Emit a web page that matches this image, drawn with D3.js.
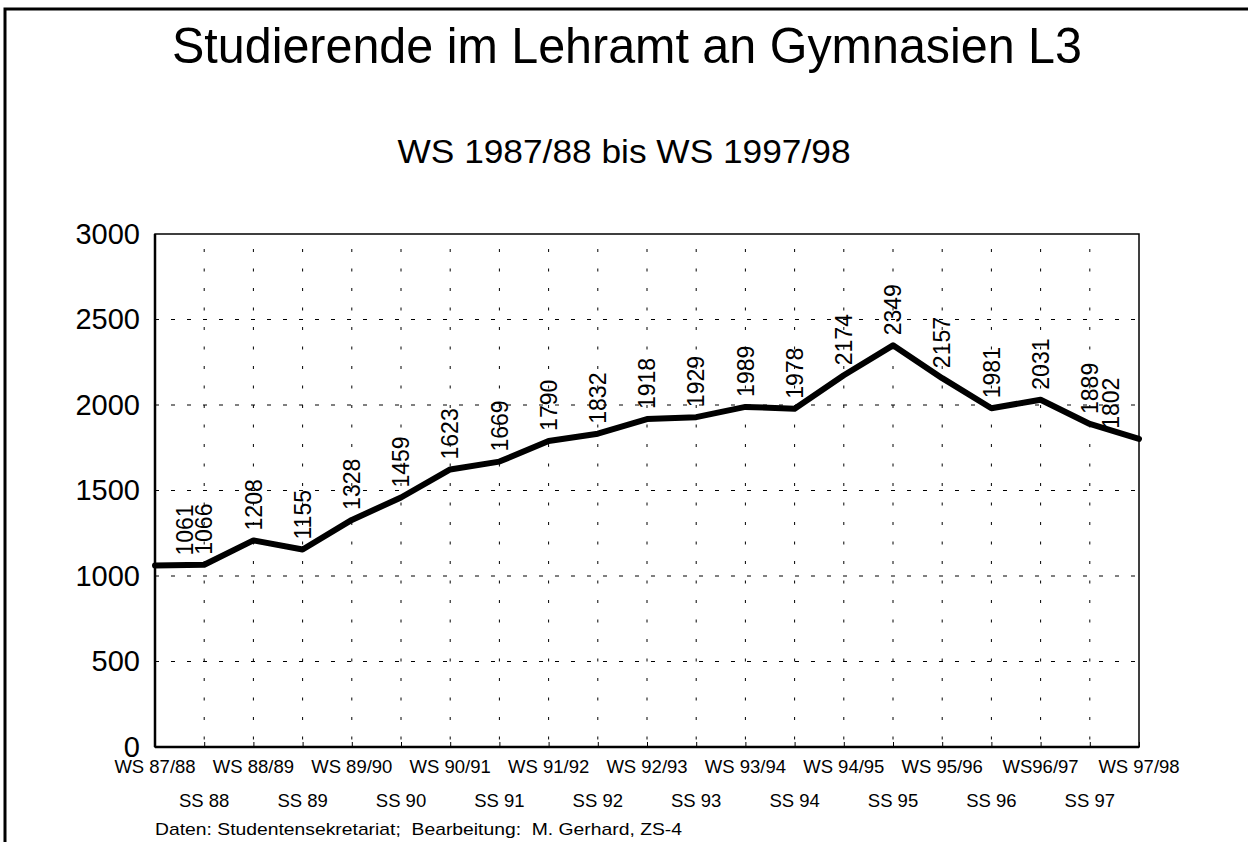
<!DOCTYPE html>
<html><head><meta charset="utf-8">
<script src="https://cdn.jsdelivr.net/npm/d3@7"></script>
<style>
html,body{margin:0;padding:0;background:#fff;}
svg{display:block;font-family:"Liberation Sans",Arial,Helvetica,sans-serif;}
</style></head>
<body>
<svg id="chart" width="1248" height="842"></svg>
<script>
const title = "Studierende im Lehramt an Gymnasien L3";
const subtitle = "WS 1987/88 bis WS 1997/98";
const footer = "Daten: Studentensekretariat;  Bearbeitung:  M. Gerhard, ZS-4";
const semesters = ["WS 87/88","SS 88","WS 88/89","SS 89","WS 89/90","SS 90","WS 90/91","SS 91",
  "WS 91/92","SS 92","WS 92/93","SS 93","WS 93/94","SS 94","WS 94/95","SS 95","WS 95/96","SS 96",
  "WS96/97","SS 97","WS 97/98"];
const students = [1061,1066,1208,1155,1328,1459,1623,1669,1790,1832,1918,1929,1989,1978,2174,2349,2157,1981,2031,1889,1802];
const yTicks = [0,500,1000,1500,2000,2500,3000];
// horizontal nudge for labels that would collide with the frame
const labelShift = [30,0,0,0,0,0,0,0,0,0,0,0,0,0,0,0,0,0,0,0,-28];

const svg = d3.select("#chart");
const L = 155, R = 1139, T = 234, B = 747;
const x = d3.scalePoint().domain(d3.range(semesters.length)).range([L, R]);
const y = d3.scaleLinear().domain([0, 3000]).range([B, T]);

// outer frame
svg.append("path").attr("d", `M5,842 V9 H1248`).attr("fill","none").attr("stroke","#000").attr("stroke-width",3);

// title
svg.append("text").attr("x",627).attr("y",63).attr("text-anchor","middle")
  .attr("font-size",50).attr("textLength",910).attr("lengthAdjust","spacingAndGlyphs").text(title);
svg.append("text").attr("x",624).attr("y",163).attr("text-anchor","middle")
  .attr("font-size",33).attr("textLength",453).attr("lengthAdjust","spacingAndGlyphs").text(subtitle);

// grid
const g = svg.append("g");
g.selectAll("line.hg").data(yTicks.filter(v => v > 0 && v < 3000)).join("line")
  .attr("x1",L).attr("x2",R).attr("y1",d=>y(d)).attr("y2",d=>y(d))
  .attr("stroke","#000").attr("stroke-width",1).attr("stroke-dasharray","4,12");
g.selectAll("line.vg").data(d3.range(1, semesters.length - 1)).join("line")
  .attr("x1",d=>x(d)).attr("x2",d=>x(d)).attr("y1",T).attr("y2",B)
  .attr("stroke","#000").attr("stroke-width",1).attr("stroke-dasharray","3,16.5").attr("stroke-dashoffset",-15);

// frame of plot
svg.append("rect").attr("x",L).attr("y",T).attr("width",R-L).attr("height",B-T)
  .attr("fill","none").attr("stroke","#000").attr("stroke-width",1.5);
svg.append("line").attr("x1",L).attr("x2",L).attr("y1",T).attr("y2",B).attr("stroke","#000").attr("stroke-width",2.5);
svg.append("line").attr("x1",L).attr("x2",R).attr("y1",B).attr("y2",B).attr("stroke","#000").attr("stroke-width",2.5);

// y axis
const yAxis = d3.axisLeft(y).tickValues(yTicks).tickFormat(d3.format("d")).tickSize(0).tickPadding(15);
const ya = svg.append("g").attr("transform",`translate(${L},0)`).call(yAxis);
ya.select(".domain").remove();
ya.selectAll("text").attr("font-size",29).attr("fill","#000").attr("font-family","Liberation Sans, Arial, sans-serif");

// x axis ticks (inward) and two-row labels
const xAxis = d3.axisTop(x).tickSize(5).tickFormat("");
const xa = svg.append("g").attr("transform",`translate(0,${B})`).call(xAxis);
xa.select(".domain").remove();
xa.selectAll("line").attr("stroke","#000").attr("stroke-width",1);
svg.append("g").selectAll("text").data(semesters).join("text")
  .attr("x",(d,i)=>x(i)).attr("y",(d,i)=> i%2===0 ? 773 : 807)
  .attr("text-anchor","middle").attr("font-size",18.5).text(d=>d);

// line
const line = d3.line().x((d,i)=>x(i)).y(d=>y(d));
svg.append("path").datum(students).attr("d",line).attr("fill","none")
  .attr("stroke","#000").attr("stroke-width",6).attr("stroke-linejoin","round").attr("stroke-linecap","round");

// value labels
svg.append("g").selectAll("text").data(students).join("text")
  .attr("transform",(d,i)=>`translate(${x(i)+labelShift[i]},${y(d)-10}) rotate(-90)`)
  .attr("dy","0.36em").attr("font-size",23).text(d=>d);

// footer
svg.append("text").attr("x",155).attr("y",835).attr("font-size",17)
  .attr("textLength",527).attr("lengthAdjust","spacingAndGlyphs").attr("xml:space","preserve").text(footer);
</script>
</body></html>
